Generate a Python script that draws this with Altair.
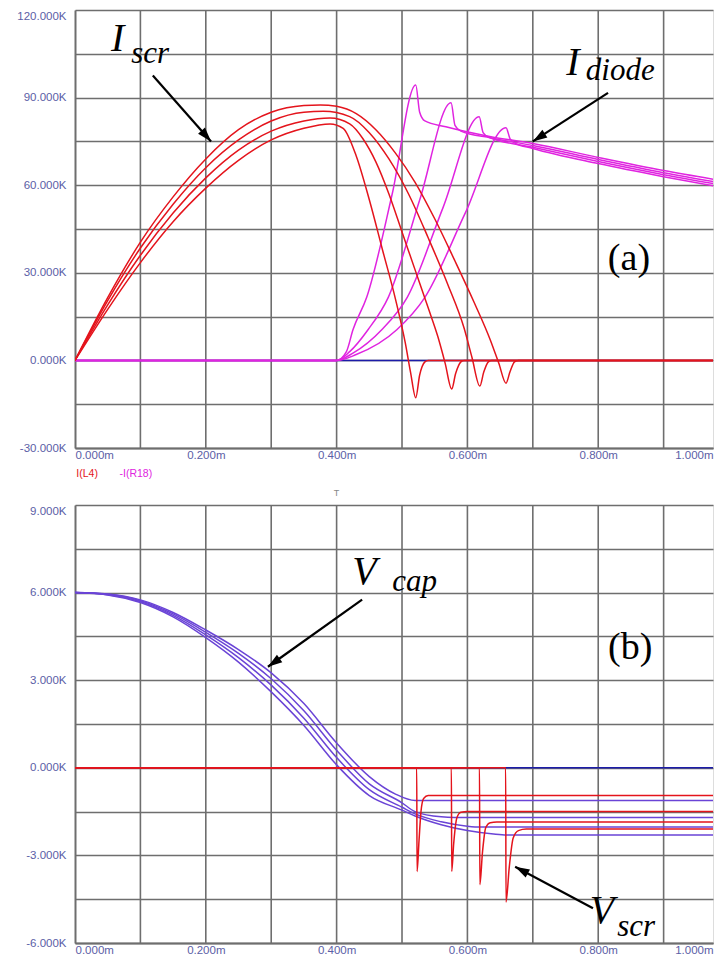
import math
import altair as alt
import pandas as pd

# ---------------- layout / style constants ----------------
XMAX = 0.9755        # visible end of time axis (ms)
W = 638              # plot width (px)
H = 438              # plot height of each panel (px)
GRID = "#6e6e6e"
LABEL = "#5b5ea6"
RED = "#e4141c"
MAG = "#e024e0"
VIO = "#6a44d6"
BLUE = "#1c1ca8"

# ---------------- panel (a): SCR currents (kA) vs time (ms) ----------------
scr_t = [
    [0, 0.05, 0.10, 0.15, 0.20, 0.25, 0.30, 0.35, 0.39, 0.41, 0.43, 0.45, 0.47, 0.49, 0.505, 0.513, 0.521, 0.527, 0.535, 0.54, 0.99],
    [0, 0.05, 0.10, 0.15, 0.20, 0.25, 0.30, 0.35, 0.39, 0.42, 0.44, 0.46, 0.48, 0.50, 0.52, 0.54, 0.555, 0.566, 0.576, 0.582, 0.59, 0.595, 0.99],
    [0, 0.05, 0.10, 0.15, 0.20, 0.25, 0.30, 0.35, 0.38, 0.42, 0.45, 0.48, 0.51, 0.54, 0.57, 0.595, 0.607, 0.619, 0.625, 0.632, 0.637, 0.99],
    [0, 0.05, 0.10, 0.15, 0.20, 0.25, 0.30, 0.35, 0.375, 0.40, 0.43, 0.46, 0.49, 0.52, 0.55, 0.58, 0.61, 0.635, 0.648, 0.659, 0.665, 0.672, 0.678, 0.99],
]
scr_i = [
    [0, 17.5, 33.5, 47.5, 59, 68.5, 75.5, 79.5, 81, 79.5, 70, 55, 38, 21, 6, -4, -12.8, -5, -0.5, 0, 0],
    [0, 19, 36, 50.5, 62.5, 72, 78.5, 82, 83, 81, 76, 68, 57, 44, 31, 18, 8, -1, -9.8, -4.5, -0.5, 0, 0],
    [0, 20.5, 38.5, 53.5, 66, 75.5, 82, 85, 85.3, 83.5, 78, 69, 57, 42, 26, 11, 1, -8.8, -4, -0.5, 0, 0],
    [0, 21.5, 40.5, 56, 69, 79, 85, 87.3, 87.5, 87, 84.5, 79, 71, 61, 48.5, 34.5, 20, 7, -1, -7.8, -4, -0.5, 0, 0],
]
diode_t = [
    [0, 0.40, 0.415, 0.425, 0.446, 0.485, 0.521, 0.527, 0.535, 0.567, 0.636, 0.70, 0.80, 0.90, 0.99],
    [0, 0.40, 0.42, 0.448, 0.479, 0.527, 0.575, 0.581, 0.59, 0.636, 0.70, 0.80, 0.90, 0.99],
    [0, 0.40, 0.425, 0.469, 0.508, 0.563, 0.618, 0.624, 0.632, 0.70, 0.80, 0.90, 0.99],
    [0, 0.40, 0.43, 0.492, 0.535, 0.597, 0.659, 0.665, 0.672, 0.70, 0.80, 0.90, 0.99],
]
diode_i = [
    [0, 0, 3, 10.5, 21.6, 57, 94.3, 85, 82, 80, 76.6, 74.3, 69.5, 65, 61.5],
    [0, 0, 3, 10.5, 21.6, 54.9, 88.2, 80.5, 78.5, 76.2, 73.6, 68.8, 64.3, 60.7],
    [0, 0, 2.5, 10.5, 21.6, 52.5, 83.4, 78, 76.5, 73, 68.1, 63.6, 60],
    [0, 0, 2, 10.5, 21.6, 50.6, 79.7, 76, 74.5, 72.6, 67.4, 62.9, 59.2],
]

# ---------------- panel (b): voltages (kV) vs time (ms) ----------------
vcap_t = [
    [0, 0.05, 0.10, 0.15, 0.20, 0.25, 0.30, 0.35, 0.40, 0.45, 0.49, 0.52, 0.99],
    [0, 0.05, 0.10, 0.15, 0.20, 0.25, 0.30, 0.35, 0.40, 0.45, 0.50, 0.52, 0.56, 0.58, 0.99],
    [0, 0.05, 0.10, 0.15, 0.20, 0.25, 0.30, 0.35, 0.40, 0.45, 0.50, 0.52, 0.56, 0.60, 0.62, 0.99],
    [0, 0.05, 0.10, 0.15, 0.20, 0.25, 0.30, 0.35, 0.40, 0.45, 0.50, 0.52, 0.56, 0.60, 0.64, 0.66, 0.99],
]
vcap_v = [
    [6, 5.95, 5.75, 5.32, 4.72, 4.05, 3.25, 2.2, 0.85, -0.3, -0.9, -1.12, -1.12],
    [6, 5.94, 5.72, 5.27, 4.64, 3.92, 3.05, 1.95, 0.6, -0.55, -1.2, -1.5, -1.68, -1.7, -1.7],
    [6, 5.93, 5.69, 5.22, 4.55, 3.77, 2.83, 1.7, 0.35, -0.75, -1.35, -1.58, -1.85, -2.0, -2.03, -2.03],
    [6, 5.92, 5.66, 5.17, 4.46, 3.62, 2.6, 1.45, 0.1, -0.95, -1.45, -1.65, -1.95, -2.15, -2.27, -2.3, -2.3],
]
vscr_t = [
    [0, 0.5225, 0.523, 0.526, 0.529, 0.533, 0.54, 0.99],
    [0, 0.5755, 0.576, 0.579, 0.584, 0.59, 0.60, 0.99],
    [0, 0.6185, 0.619, 0.623, 0.628, 0.635, 0.645, 0.99],
    [0, 0.6585, 0.659, 0.664, 0.67, 0.678, 0.69, 0.99],
]
vscr_v = [
    [0, 0, -3.55, -2.5, -1.5, -1.05, -0.95, -0.95],
    [0, 0, -3.55, -2.6, -1.7, -1.52, -1.5, -1.5],
    [0, 0, -4.0, -2.9, -2.05, -1.88, -1.86, -1.86],
    [0, 0, -4.6, -3.4, -2.4, -2.15, -2.1, -2.1],
]
zero_t = [0, 0.99]
zero_v = [0, 0]

# ---------------- axes ticks / grid ----------------
x_label_vals = [0, 0.2, 0.4, 0.6, 0.8, XMAX]
x_grid_vals = [0.1, 0.2, 0.3, 0.4, 0.5, 0.6, 0.7, 0.8, 0.9]
top_y_vals = [-30, -15, 0, 15, 30, 45, 60, 75, 90, 105, 120]
bot_y_vals = [-6, -4.5, -3, -1.5, 0, 1.5, 3, 4.5, 6, 7.5, 9]

# ---------------- annotations ----------------
top_big = pd.DataFrame({"t": [0.055, 0.751], "v": [106.0, 97.6], "s": ["I", "I"]})
top_sub = pd.DataFrame({"t": [0.086, 0.781], "v": [101.7, 96.0], "s": ["scr", "diode"]})
top_tag = pd.DataFrame({"t": [0.847], "v": [31.0], "s": ["(a)"]})
top_arrows = pd.DataFrame({"t": [0.119, 0.815], "v": [97.6, 91.6], "t2": [0.208, 0.700], "v2": [75.0, 75.0]})
top_legend = pd.DataFrame({"t": [0.002, 0.068], "v": [-38.8, -38.8], "s": ["I(L4)", "-I(R18)"], "c": [RED, MAG]})
top_axis_title = pd.DataFrame({"t": [0.4], "v": [-45.3], "s": ["T"]})

bot_big = pd.DataFrame({"t": [0.424, 0.787], "v": [6.3, -5.32], "s": ["V", "V"]})
bot_sub = pd.DataFrame({"t": [0.485, 0.829], "v": [6.05, -5.76], "s": ["cap", "scr"]})
bot_tag = pd.DataFrame({"t": [0.849], "v": [3.73], "s": ["(b)"]})
bot_arrows = pd.DataFrame({"t": [0.439, 0.792], "v": [5.76, -4.81], "t2": [0.295, 0.673], "v2": [3.46, -3.39]})


def long_df(ts, vs, prefix):
    rows = []
    for k, (tt, vv) in enumerate(zip(ts, vs)):
        for a, b in zip(tt, vv):
            rows.append({"t": a, "v": b, "id": f"{prefix}{k}"})
    return pd.DataFrame(rows)


def head_angles(df, px_per_t, px_per_v):
    out = df.copy()
    ang = []
    for _, r in df.iterrows():
        dx = (r.t2 - r.t) * px_per_t
        dy = -(r.v2 - r.v) * px_per_v
        ang.append(math.degrees(math.atan2(dx, -dy)) % 360)
    out["ang"] = ang
    return out


def panel(ymin, ymax, yvals, lab_step, series, big, sub, tag, arrows, legend=None, axis_title=None):
    xscale = alt.Scale(domain=[0, XMAX], nice=False, zero=False)
    yscale = alt.Scale(domain=[ymin, ymax], nice=False, zero=False)
    xaxis = alt.Axis(
        values=x_label_vals,
        labelExpr="datum.value > 0.95 ? '1.000m' : format(datum.value, '.3f') + 'm'",
        labelFlush=True,
        labelOverlap=False,
        grid=False, ticks=False, domain=True, domainColor=GRID, domainWidth=2,
        labelColor=LABEL, labelFont="Liberation Sans", labelFontSize=11.5, labelPadding=1, title=None,
    )
    yaxis = alt.Axis(
        values=yvals,
        labelExpr=f"abs(datum.value % {lab_step}) < 1e-6 ? (datum.value < 0 ? '-' : '') + format(abs(datum.value), '.3f') + 'K' : ''",
        labelOverlap=False,
        labelBaseline={"condition": {"test": f"datum.value >= {ymax}", "value": "top"}, "value": "middle"},
        grid=True, gridColor=GRID, gridWidth=1.6, ticks=False, domain=True, domainColor=GRID, domainWidth=2,
        labelColor=LABEL, labelFont="Liberation Sans", labelFontSize=11.5, labelPadding=9, title=None,
    )
    X = alt.X("t:Q", scale=xscale, axis=xaxis)
    Y = alt.Y("v:Q", scale=yscale, axis=yaxis)

    layers = []
    layers.append(
        alt.Chart(pd.DataFrame({"t": x_grid_vals})).mark_rule(color=GRID, strokeWidth=1.6).encode(x=X)
    )
    layers.append(
        alt.Chart(pd.DataFrame({"t": zero_t, "v": zero_v})).mark_line(color=BLUE, strokeWidth=1.5, clip=True)
        .encode(x=X, y=Y)
    )
    for df, color in series:
        layers.append(
            alt.Chart(df).mark_line(color=color, strokeWidth=1.5, interpolate="monotone", clip=True)
            .encode(x=X, y=Y, detail="id:N")
        )
    layers.append(
        alt.Chart(arrows).mark_rule(color="black", strokeWidth=2.2).encode(x=X, y=Y, x2="t2:Q", y2="v2:Q")
    )
    px_t = W / XMAX
    px_v = H / (ymax - ymin)
    heads = head_angles(arrows, px_t, px_v)
    layers.append(
        alt.Chart(heads).mark_point(shape="M0,0L0.45,1.4L-0.45,1.4Z", filled=True, color="black", opacity=1, size=420)
        .encode(x=alt.X("t2:Q", scale=xscale, axis=xaxis), y=alt.Y("v2:Q", scale=yscale, axis=yaxis),
                angle=alt.Angle("ang:Q", scale=None))
    )
    layers.append(
        alt.Chart(big).mark_text(font="Liberation Serif", fontStyle="italic", fontSize=40, align="left",
                                 baseline="alphabetic", color="black").encode(x=X, y=Y, text="s:N")
    )
    layers.append(
        alt.Chart(sub).mark_text(font="Liberation Serif", fontStyle="italic", fontSize=31, align="left",
                                 baseline="alphabetic", color="black").encode(x=X, y=Y, text="s:N")
    )
    layers.append(
        alt.Chart(tag).mark_text(font="Liberation Serif", fontSize=38, align="center",
                                 baseline="alphabetic", color="black").encode(x=X, y=Y, text="s:N")
    )
    if legend is not None:
        layers.append(
            alt.Chart(legend).mark_text(font="Liberation Sans", fontSize=10.5, align="left", baseline="middle")
            .encode(x=X, y=Y, text="s:N", color=alt.Color("c:N", scale=None))
        )
    if axis_title is not None:
        layers.append(
            alt.Chart(axis_title).mark_text(font="Liberation Sans", fontSize=9, align="center", baseline="middle",
                                            color="#888888").encode(x=X, y=Y, text="s:N")
        )
    return alt.layer(*layers).properties(width=W, height=H)


top_series = [
    (long_df(diode_t, diode_i, "d"), MAG),
    (long_df(scr_t, scr_i, "s"), RED),
]
bot_series = [
    (long_df(vcap_t, vcap_v, "c"), VIO),
    (long_df(vscr_t, vscr_v, "r"), RED),
]

top = panel(-30, 120, top_y_vals, 30, top_series, top_big, top_sub, top_tag, top_arrows,
            legend=top_legend, axis_title=top_axis_title)
bot = panel(-6, 9, bot_y_vals, 3, bot_series, bot_big, bot_sub, bot_tag, bot_arrows)

chart = alt.vconcat(top, bot, spacing=57, bounds="flush").properties(
    padding={"left": 8, "top": 0, "right": 0, "bottom": -1}
).configure_view(strokeWidth=0).configure(background="white")

chart.save("out.html", embed_options={"renderer": "svg", "actions": False})
